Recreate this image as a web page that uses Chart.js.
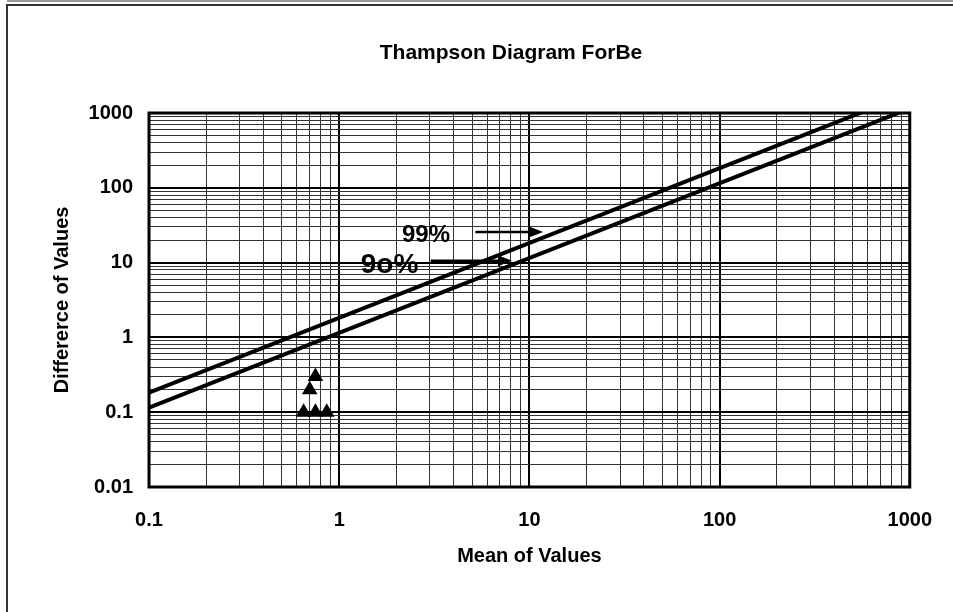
<!DOCTYPE html>
<html>
<head>
<meta charset="utf-8">
<title>Thampson Diagram ForBe</title>
<script src="https://cdn.jsdelivr.net/npm/chart.js@4.4.1/dist/chart.umd.min.js"></script>
<style>
    html, body { margin: 0; padding: 0; background: #fff; }
    #wrap { position: relative; width: 953px; height: 612px; overflow: hidden; }
    #topline { position: absolute; left: 7px; top: 0; width: 946px; height: 2px; background: #999; }
    #frame { position: absolute; left: 6px; top: 4px; width: 980px; height: 700px; border-left: 2px solid #333; border-top: 2px solid #333; }
    #chart { position: absolute; left: 0; top: 0; }
</style>
</head>
<body>
<div id="wrap">
    <div id="topline"></div>
    <div id="frame"></div>
    <canvas id="chart" width="953" height="612"></canvas>
</div>
<script>
// measured points (mean, difference)
var meanValues = [0.65, 0.75, 0.86, 0.7, 0.75];
var diffValues = [0.1, 0.1, 0.1, 0.2, 0.3];

// precision lines
var lineMeans = [0.1, 1000];
var line99 = [0.183, 1830];
var line90 = [0.115, 1150];

var xTickLabels = ["0.1", "1", "10", "100", "1000"];
var yTickLabels = ["0.01", "0.1", "1", "10", "100", "1000"];

var chartTitle = "Thampson Diagram ForBe";

// arrow notes, placed in data units
var notes = [
    { text: "99%", size: 24, textX: 2.86, textY: 23.4, fromX: 5.2, toX: 11.8, arrowY: 25.6 },
    { text: "9o%", size: 28, textX: 1.84, textY: 9.3, fromX: 3.03, toX: 8.1, arrowY: 10.6 }
];

var fontFamily = "'Liberation Sans', Arial, sans-serif";

function toPoints(xs, ys) {
    return xs.map(function (x, i) { return { x: x, y: ys[i] }; });
}

function isDecade(value) {
    var e = Math.log10(value);
    return Math.abs(e - Math.round(e)) < 1e-9;
}

// 1..9 in every decade, so each minor grid line is drawn
function decadeTicks(labels) {
    var ticks = [];
    var first = parseFloat(labels[0]);
    for (var d = 0; d < labels.length - 1; d++) {
        var base = first * Math.pow(10, d);
        for (var s = 1; s <= 9; s++) {
            ticks.push({ value: parseFloat((s * base).toPrecision(6)) });
        }
    }
    ticks.push({ value: parseFloat(labels[labels.length - 1]) });
    return ticks;
}

function tickLabel(labels) {
    return function (value) {
        var str = String(value);
        return labels.indexOf(str) >= 0 ? str : "";
    };
}

var gridColor = function (ctx) {
    return ctx.tick && isDecade(ctx.tick.value) ? "#000" : "#333";
};
var gridWidth = function (ctx) {
    return ctx.tick && isDecade(ctx.tick.value) ? 2 : 1;
};

var frameAndNotes = {
    id: "frameAndNotes",
    afterDatasetsDraw: function (chart) {
        var ctx = chart.ctx;
        var area = chart.chartArea;
        var xs = chart.scales.x;
        var ys = chart.scales.y;
        ctx.save();
        ctx.strokeStyle = "#000";
        ctx.fillStyle = "#000";
        ctx.lineWidth = 3;
        ctx.strokeRect(area.left, area.top, area.right - area.left, area.bottom - area.top);

        // title sits a bit left of the plot centre, as in the original
        ctx.font = "bold 21px " + fontFamily;
        ctx.textAlign = "center";
        ctx.textBaseline = "middle";
        ctx.fillText(chartTitle, 511, 53);

        notes.forEach(function (n) {
            ctx.font = "bold " + n.size + "px " + fontFamily;
            ctx.textAlign = "center";
            ctx.textBaseline = "middle";
            ctx.fillText(n.text, xs.getPixelForValue(n.textX), ys.getPixelForValue(n.textY));

            var x1 = xs.getPixelForValue(n.fromX);
            var x2 = xs.getPixelForValue(n.toX);
            var y = ys.getPixelForValue(n.arrowY);
            ctx.lineWidth = 2.5;
            ctx.beginPath();
            ctx.moveTo(x1, y);
            ctx.lineTo(x2 - 10, y);
            ctx.stroke();
            ctx.beginPath();
            ctx.moveTo(x2, y);
            ctx.lineTo(x2 - 14, y - 5.5);
            ctx.lineTo(x2 - 14, y + 5.5);
            ctx.closePath();
            ctx.fill();
        });
        ctx.restore();
    }
};

window.addEventListener("load", function () {
    Chart.defaults.font.family = fontFamily;
    Chart.defaults.color = "#000";

    var chart = new Chart(document.getElementById("chart"), {
        type: "scatter",
        data: {
            datasets: [
                {
                    label: "99%",
                    data: toPoints(lineMeans, line99),
                    showLine: true,
                    borderColor: "#000",
                    borderWidth: 4,
                    pointRadius: 0,
                    clip: 0
                },
                {
                    label: "90%",
                    data: toPoints(lineMeans, line90),
                    showLine: true,
                    borderColor: "#000",
                    borderWidth: 4,
                    pointRadius: 0,
                    clip: 0
                },
                {
                    label: "Samples",
                    data: toPoints(meanValues, diffValues),
                    pointStyle: "triangle",
                    pointRadius: 9,
                    backgroundColor: "#000",
                    borderColor: "#000",
                    borderWidth: 0
                }
            ]
        },
        options: {
            responsive: false,
            animation: false,
            layout: { padding: { left: 0, right: 40, top: 113, bottom: 0 } },
            plugins: {
                legend: { display: false },
                tooltip: { enabled: false },
                title: { display: false }
            },
            scales: {
                x: {
                    type: "logarithmic",
                    min: parseFloat(xTickLabels[0]),
                    max: parseFloat(xTickLabels[xTickLabels.length - 1]),
                    afterBuildTicks: function (scale) { scale.ticks = decadeTicks(xTickLabels); },
                    afterFit: function (scale) { scale.height = 125; },
                    grid: { color: gridColor, lineWidth: gridWidth, drawTicks: false },
                    border: { display: false },
                    ticks: {
                        autoSkip: false,
                        maxRotation: 0,
                        padding: 21,
                        font: { size: 20, weight: "bold" },
                        callback: tickLabel(xTickLabels)
                    },
                    title: {
                        display: true,
                        text: "Mean of Values",
                        font: { size: 20, weight: "bold" },
                        padding: { top: 0, bottom: 44 }
                    }
                },
                y: {
                    type: "logarithmic",
                    min: parseFloat(yTickLabels[0]),
                    max: parseFloat(yTickLabels[yTickLabels.length - 1]),
                    afterBuildTicks: function (scale) { scale.ticks = decadeTicks(yTickLabels); },
                    afterFit: function (scale) { scale.width = 149; },
                    grid: { color: gridColor, lineWidth: gridWidth, drawTicks: false },
                    border: { display: false },
                    ticks: {
                        autoSkip: false,
                        padding: 16,
                        font: { size: 20, weight: "bold" },
                        callback: tickLabel(yTickLabels)
                    },
                    title: {
                        display: true,
                        text: "Differerce of Values",
                        font: { size: 20, weight: "bold" },
                        padding: { top: 50, bottom: 0 }
                    }
                }
            }
        },
        plugins: [frameAndNotes]
    });
}, false);
</script>
</body>
</html>
